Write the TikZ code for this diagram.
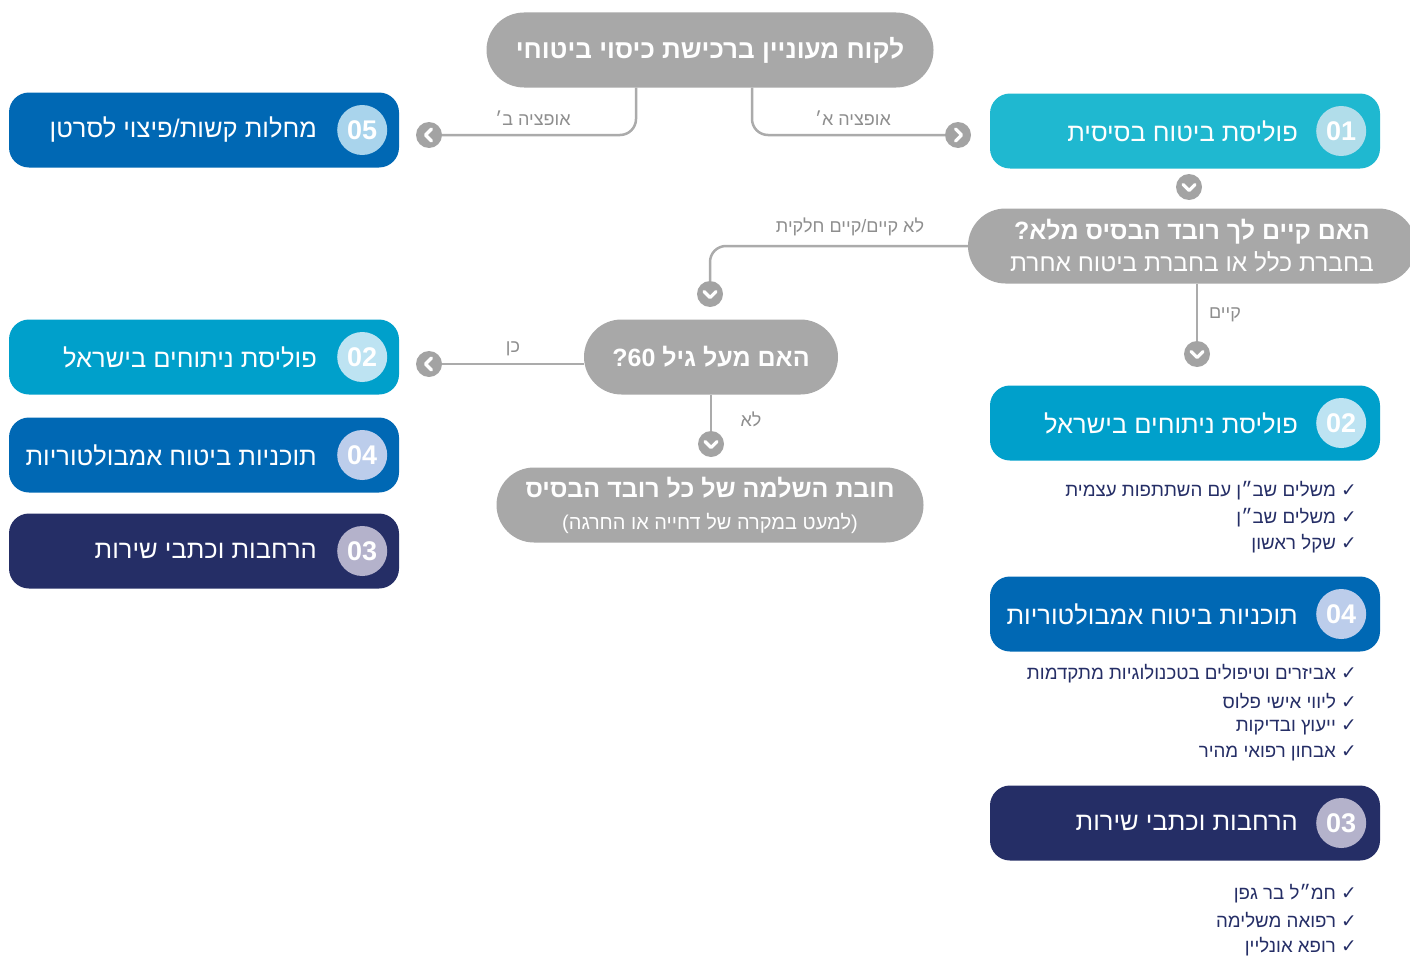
\documentclass[tikz,border=0pt]{standalone}
\usepackage{fontspec}
\setmainfont{Liberation Sans}
\newfontfamily\hebfont[Script=Hebrew]{Liberation Sans}
\newfontfamily\checkfont{DejaVu Sans}
\TeXXeTstate=1
\usetikzlibrary{positioning}
\definecolor{pillgray}{HTML}{A8A8A8}
\definecolor{linkgray}{HTML}{ABABAB}
\definecolor{navgray}{HTML}{A3A3A3}
\definecolor{labelgray}{HTML}{8E8E8E}
\definecolor{navy}{HTML}{252E66}
\definecolor{cyanbox}{HTML}{1FB8D0}
\definecolor{surgbox}{HTML}{00A0CB}
\definecolor{ambubox}{HTML}{0068B4}
\definecolor{dot01}{HTML}{B1DDEA}
\definecolor{dot02}{HTML}{BDE3F2}
\definecolor{dot04}{HTML}{BCCDEB}
\definecolor{dot05}{HTML}{A9D4EC}
\definecolor{dot03}{HTML}{B4B2CB}
\begin{document}
\begin{tikzpicture}[x=1pt, y=-1pt,
  pill/.style={fill=pillgray, rounded corners=37.5pt, minimum height=75pt,
    inner sep=0pt, text=white, align=center,
    font=\hebfont\bfseries\fontsize{25}{32}\selectfont},
  catbox/.style={rounded corners=20pt, minimum width=390pt, minimum height=75pt},
  numdot/.style={circle, minimum size=50pt, inner sep=0pt, text=white,
    font=\bfseries\fontsize{27}{27}\selectfont},
  cattext/.style={inner sep=0pt, anchor=east, text=white,
    font=\hebfont\fontsize{25.5}{30}\selectfont},
  link/.style={draw=linkgray, line width=2.5pt, rounded corners=16pt},
  chevron/.style={white, line width=3.2pt, line cap=round, line join=round},
  navdot/.style={circle, fill=navgray, minimum size=26pt, inner sep=0pt},
  navright/.style={navdot, path picture={\draw[chevron, shift={(path picture bounding box.center)}]
    (-2.5pt,6pt) -- (3.5pt,0pt) -- (-2.5pt,-6pt);}},
  navleft/.style={navdot, path picture={\draw[chevron, shift={(path picture bounding box.center)}]
    (2.5pt,6pt) -- (-3.5pt,0pt) -- (2.5pt,-6pt);}},
  navdown/.style={navdot, path picture={\draw[chevron, shift={(path picture bounding box.center)}]
    (-6pt,2.5pt) -- (0pt,-3.5pt) -- (6pt,2.5pt);}},
  flowlabel/.style={inner sep=0pt, text=labelgray, font=\hebfont\fontsize{18}{20}\selectfont},
  checkline/.style={inner sep=0pt, anchor=east, text=navy, font=\hebfont\fontsize{18.7}{22}\selectfont}]
\useasboundingbox (0,0) rectangle (1410,958);

\node[pill, minimum width=447pt] (start) at (710,50) {\fontsize{26}{30}\selectfont\beginR לקוח מעוניין ברכישת כיסוי ביטוחי\endR};

\node[navright] (navA) at (958,135) {};
\node[navleft] (navB) at (429,135) {};
\draw[link] ([xshift=42pt]start.south) |- (navA.west);
\draw[link] ([xshift=-74pt]start.south) |- (navB.east);
\node[flowlabel] (optA) at (853,118) {\beginR אופציה א׳\endR};
\node[flowlabel] (optB) at (533,118) {\beginR אופציה ב׳\endR};

\node[catbox, fill=ambubox] (ill) at (204,130) {};
\node[numdot, fill=dot05] (illnum) at ([xshift=-37pt]ill.east) {05};
\node[cattext, left=20pt of illnum] (illtext) {\beginR מחלות קשות/פיצוי לסרטן\endR};

\node[catbox, fill=cyanbox] (basic) at (1185,131) {};
\node[numdot, fill=dot01] (basicnum) at ([xshift=-39pt]basic.east) {01};
\node[cattext, left=18pt of basicnum] (basictext) {\beginR פוליסת ביטוח בסיסית\endR};

\node[navdown] (navBasic) at (1189,187) {};

\node[pill, minimum width=448pt] (check) at (1192,246)
  {\beginR האם קיים לך רובד הבסיס מלא?\endR\\
   {\mdseries\fontsize{24.5}{30}\selectfont\beginR בחברת כלל או בחברת ביטוח אחרת\endR}};

\node[navdown] (navPartial) at (710,294) {};
\draw[link] (check.west) -| (navPartial.north);
\node[flowlabel] (partial) at (850,227) {\beginR לא קיים/קיים חלקית\endR};

\node[navdown] (navFull) at (1197,354) {};
\draw[link] ([xshift=5pt]check.south) -- (navFull.north);
\node[flowlabel] (full) at (1225,315) {\beginR קיים\endR};

\node[pill, minimum width=254pt] (age) at (711,357) {\beginR האם מעל גיל \beginL60\endL?\endR};

\node[navleft] (navOld) at (429,364) {};
\draw[link] ([yshift=-7pt]age.west) -- (navOld.east);
\node[flowlabel] (old) at (513,349) {\beginR כן\endR};

\node[navdown] (navYoung) at (711,444) {};
\draw[link] (age.south) -- (navYoung.north);
\node[flowlabel] (young) at (751,419) {\beginR לא\endR};

\node[pill, minimum width=427pt] (must) at (710,505)
  {\beginR חובת השלמה של כל רובד הבסיס\endR\\
   {\mdseries\fontsize{20}{24}\selectfont\beginR (למעט במקרה של דחייה או החרגה)\endR}};

\node[catbox, fill=surgbox] (surgL) at (204,357) {};
\node[numdot, fill=dot02] (surgLnum) at ([xshift=-37pt]surgL.east) {02};
\node[cattext, left=20pt of surgLnum] (surgLtext) {\beginR פוליסת ניתוחים בישראל\endR};

\node[catbox, fill=ambubox] (ambuL) at (204,455) {};
\node[numdot, fill=dot04] (ambuLnum) at ([xshift=-37pt]ambuL.east) {04};
\node[cattext, left=20pt of ambuLnum] (ambuLtext) {\beginR תוכניות ביטוח אמבולטוריות\endR};

\node[catbox, fill=navy] (extL) at (204,551) {};
\node[numdot, fill=dot03] (extLnum) at ([xshift=-37pt]extL.east) {03};
\node[cattext, left=20pt of extLnum] (extLtext) {\beginR הרחבות וכתבי שירות\endR};

\node[catbox, fill=surgbox] (surgR) at (1185,423) {};
\node[numdot, fill=dot02] (surgRnum) at ([xshift=-39pt]surgR.east) {02};
\node[cattext, left=18pt of surgRnum] (surgRtext) {\beginR פוליסת ניתוחים בישראל\endR};
\node[checkline] (surg1) at (1357,491) {\beginR{\checkfont\bfseries ✓} משלים שב״ן עם השתתפות עצמית\endR};
\node[checkline] (surg2) at (1357,518) {\beginR{\checkfont\bfseries ✓} משלים שב״ן\endR};
\node[checkline] (surg3) at (1357,544) {\beginR{\checkfont\bfseries ✓} שקל ראשון\endR};

\node[catbox, fill=ambubox] (ambuR) at (1185,614) {};
\node[numdot, fill=dot04] (ambuRnum) at ([xshift=-39pt]ambuR.east) {04};
\node[cattext, left=18pt of ambuRnum] (ambuRtext) {\beginR תוכניות ביטוח אמבולטוריות\endR};
\node[checkline] (ambu1) at (1357,674) {\beginR{\checkfont\bfseries ✓} אביזרים וטיפולים בטכנולוגיות מתקדמות\endR};
\node[checkline] (ambu2) at (1357,701) {\beginR{\checkfont\bfseries ✓} ליווי אישי פלוס\endR};
\node[checkline] (ambu3) at (1357,727) {\beginR{\checkfont\bfseries ✓} ייעוץ ובדיקות\endR};
\node[checkline] (ambu4) at (1357,753) {\beginR{\checkfont\bfseries ✓} אבחון רפואי מהיר\endR};

\node[catbox, fill=navy] (extR) at (1185,823) {};
\node[numdot, fill=dot03] (extRnum) at ([xshift=-39pt]extR.east) {03};
\node[cattext, left=18pt of extRnum] (extRtext) {\beginR הרחבות וכתבי שירות\endR};
\node[checkline] (ext1) at (1357,894) {\beginR{\checkfont\bfseries ✓} חמ״ל בר גפן\endR};
\node[checkline] (ext2) at (1357,920) {\beginR{\checkfont\bfseries ✓} רפואה משלימה\endR};
\node[checkline] (ext3) at (1357,947) {\beginR{\checkfont\bfseries ✓} רופא אונליין\endR};
\end{tikzpicture}
\end{document}
